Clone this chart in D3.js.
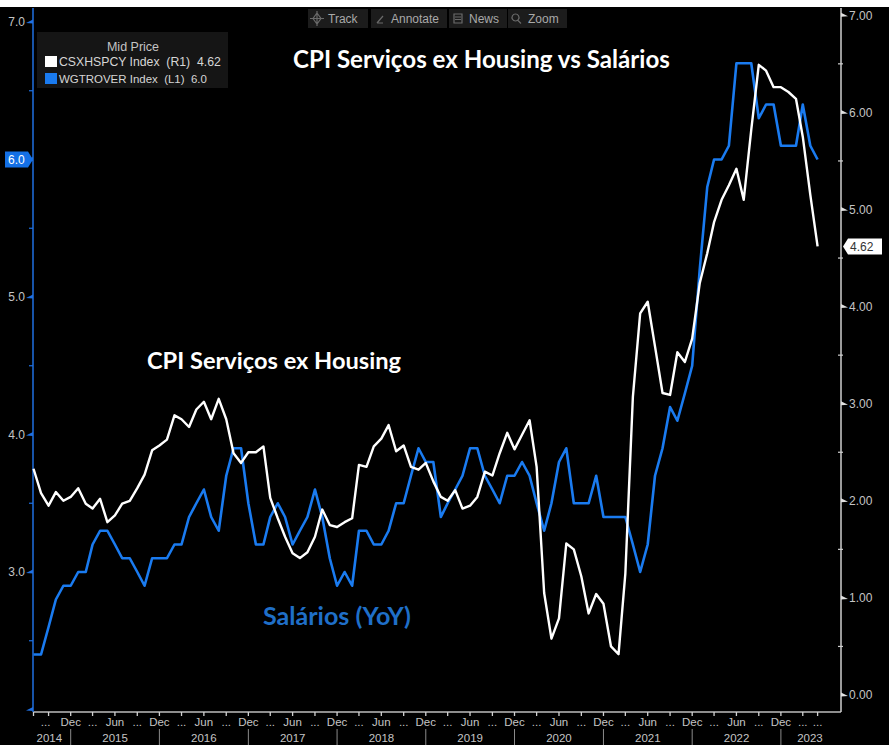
<!DOCTYPE html>
<html><head><meta charset="utf-8">
<script src="https://cdn.jsdelivr.net/npm/d3@7"></script>
<style>body{margin:0;background:#000}svg{display:block}</style>
</head><body><svg id="c" width="889" height="745"></svg>
<script>
// ---------------- DATA ----------------
const firstMonth = "2014-07";   // monthly series, Jul 2014 .. May 2023
const wageValues = [ // WGTROVER Index (L1)
  2.4,2.4,2.6,2.8,2.9,2.9,3.0,3.0,3.2,3.3,3.3,3.2,3.1,3.1,3.0,2.9,3.1,3.1,3.1,3.2,
  3.2,3.4,3.5,3.6,3.4,3.3,3.7,3.9,3.9,3.5,3.2,3.2,3.4,3.5,3.4,3.2,3.3,3.4,3.6,3.4,
  3.1,2.9,3.0,2.9,3.3,3.3,3.2,3.2,3.3,3.5,3.5,3.7,3.9,3.8,3.8,3.4,3.5,3.6,3.7,3.9,
  3.9,3.7,3.6,3.5,3.7,3.7,3.8,3.7,3.5,3.3,3.5,3.8,3.9,3.5,3.5,3.5,3.7,3.4,3.4,3.4,
  3.4,3.2,3.0,3.2,3.7,3.9,4.2,4.1,4.3,4.5,5.2,5.8,6.0,6.0,6.1,6.7,6.7,6.7,6.3,6.4,
  6.4,6.1,6.1,6.1,6.4,6.1,6.0];
const cpiValues = [ // CSXHSPCY Index (R1)
  2.33,2.08,1.95,2.09,2.00,2.04,2.13,1.97,1.92,2.02,1.78,1.85,1.97,2.00,2.13,2.27,2.52,2.57,2.63,2.88,
  2.84,2.76,2.94,3.02,2.84,3.05,2.84,2.49,2.39,2.50,2.50,2.56,2.03,1.82,1.63,1.46,1.41,1.47,1.63,1.91,
  1.75,1.73,1.78,1.82,2.37,2.35,2.56,2.64,2.78,2.51,2.57,2.35,2.32,2.39,2.20,2.04,2.00,2.11,1.92,1.95,
  2.04,2.30,2.26,2.49,2.70,2.53,2.68,2.83,2.35,1.05,0.58,0.79,1.56,1.50,1.22,0.84,1.04,0.94,0.50,0.42,
  1.25,3.07,3.93,4.05,3.59,3.11,3.09,3.53,3.43,3.67,4.24,4.55,4.87,5.10,5.25,5.42,5.10,5.82,6.49,6.43,
  6.26,6.26,6.21,6.14,5.75,5.15,4.62];
const leftMajorTicks = [2,3,4,5,6,7];
const leftLabels = ["3.0","4.0","5.0","6.0","7.0"];
const rightMajorTicks = [0,1,2,3,4,5,6,7];
const monthNames = {2:"...",5:"Jun",8:"...",11:"Dec"};
const years = [2014,2015,2016,2017,2018,2019,2020,2021,2022,2023];
const legendItems = [
  {name:"CSXHSPCY Index", side:"(R1)", last:"4.62", color:"#ffffff"},
  {name:"WGTROVER Index", side:"(L1)", last:"6.0", color:"#1a7bf0"}];
const toolButtons = ["Track","Annotate","News","Zoom"];

// ---------------- SETUP ----------------
const svg = d3.select("#c");
const W = 889, H = 745;
const plot = {l:33, r:841, t:8, b:712};
const parse = d3.utcParse("%Y-%m");
const d0 = parse(firstMonth);
const dates = wageValues.map((_, i) => d3.utcMonth.offset(d0, i));
const lastDate = dates[dates.length-1];

const x = d3.scaleUtc().domain([d0, d3.utcMonth.offset(d0, 101)]).range([33.5, 780.9]);
const yL = d3.scaleLinear().domain([2, 7]).range([709.5, 22]);
const yR = d3.scaleLinear().domain([0, 7]).range([695, 15.3]);

svg.append("rect").attr("width", W).attr("height", H).attr("fill", "#000");
svg.append("rect").attr("width", W).attr("height", 7).attr("fill", "#fff");

const AX = "Liberation Sans, Arial, sans-serif";
const gray = "#c4c4c4";

function fitText(sel, target) {
  const len = sel.node().getComputedTextLength();
  const fs = parseFloat(sel.attr("font-size"));
  sel.attr("font-size", fs * target / len);
}

// ---------------- AXES ----------------
svg.append("line").attr("x1", plot.l).attr("x2", plot.r).attr("y1", plot.b).attr("y2", plot.b)
  .attr("stroke", "#bdbdbd").attr("stroke-width", 1.5);
const qTicks = d3.utcMonths(d0, d3.utcMonth.offset(lastDate, 1)).filter(d => d.getUTCMonth() % 3 === 2);
const tickG = svg.append("g");
tickG.selectAll("line.t").data([d0, ...qTicks, lastDate]).join("line")
  .attr("x1", d => x(d)).attr("x2", d => x(d)).attr("y1", plot.b).attr("y2", plot.b + 4)
  .attr("stroke", "#d0d0d0").attr("stroke-width", 1.3);
tickG.selectAll("text.m").data([...qTicks, lastDate]).join("text")
  .attr("x", (d, i) => i === 0 ? x(d) - 3 : x(d)).attr("y", 726)
  .attr("text-anchor", "middle").attr("fill", gray).attr("font-family", AX).attr("font-size", 11.5)
  .text(d => d === lastDate ? "..." : monthNames[d.getUTCMonth()]);
const seps = years.slice(0, -1).map(yv => Date.UTC(yv, 11, 1));
tickG.selectAll("line.s").data(seps).join("line")
  .attr("x1", d => x(d)).attr("x2", d => x(d)).attr("y1", 729).attr("y2", 745)
  .attr("stroke", "#8a8a8a").attr("stroke-width", 1);
const bounds = [plot.l + 3, ...seps.map(d => x(d)), plot.r - 2];
tickG.selectAll("text.y").data(years).join("text")
  .attr("x", (d, i) => (bounds[i] + bounds[i+1]) / 2 - (i === 0 ? 4 : 0)).attr("y", 742)
  .attr("text-anchor", "middle").attr("fill", gray).attr("font-family", AX).attr("font-size", 11.5)
  .text(d => d);

// left axis (blue)
const blueAx = "#1f6fe0";
svg.append("line").attr("x1", plot.l).attr("x2", plot.l).attr("y1", plot.t).attr("y2", plot.b)
  .attr("stroke", blueAx).attr("stroke-width", 1.5);
const lMinor = d3.range(2.5, 7, 1);
svg.selectAll("line.lm").data(lMinor).join("line")
  .attr("x1", plot.l - 4).attr("x2", plot.l).attr("y1", d => yL(d)).attr("y2", d => yL(d))
  .attr("stroke", blueAx).attr("stroke-width", 1.2);
svg.selectAll("path.lM").data(leftMajorTicks).join("path")
  .attr("d", d => `M${plot.l},${yL(d)-2.5} L${plot.l-7},${yL(d)+1} L${plot.l},${yL(d)+1.5} Z`)
  .attr("fill", blueAx);
svg.selectAll("text.ll").data(leftLabels).join("text")
  .attr("x", 25).attr("y", d => yL(+d)).attr("dy", "0.35em").attr("text-anchor", "end")
  .attr("fill", gray).attr("font-family", AX).attr("font-size", 12).text(d => d);

// right axis (gray)
svg.append("line").attr("x1", plot.r).attr("x2", plot.r).attr("y1", plot.t).attr("y2", plot.b)
  .attr("stroke", "#cfcfcf").attr("stroke-width", 1.5);
const rMinor = d3.range(0.5, 7, 1);
svg.selectAll("line.rm").data(rMinor).join("line")
  .attr("x1", plot.r - 3).attr("x2", plot.r + 2).attr("y1", d => yR(d)).attr("y2", d => yR(d))
  .attr("stroke", "#cfcfcf").attr("stroke-width", 1.2);
svg.selectAll("path.rM").data(rightMajorTicks).join("path")
  .attr("d", d => `M${plot.r},${yR(d)-2.5} L${plot.r+7},${yR(d)+1} L${plot.r},${yR(d)+1.5} Z`)
  .attr("fill", "#e0e0e0");
svg.selectAll("text.rl").data(rightMajorTicks).join("text")
  .attr("x", 849).attr("y", d => yR(d)).attr("dy", "0.35em")
  .attr("fill", gray).attr("font-family", AX).attr("font-size", 12).text(d => d3.format(".2f")(d));

// ---------------- LINES ----------------
const lineL = d3.line().x((d, i) => x(dates[i])).y(d => yL(d));
const lineR = d3.line().x((d, i) => x(dates[i])).y(d => yR(d));
svg.append("path").attr("d", lineL(wageValues)).attr("fill", "none")
  .attr("stroke", legendItems[1].color).attr("stroke-width", 2.6).attr("stroke-linejoin", "round");
svg.append("path").attr("d", lineR(cpiValues)).attr("fill", "none")
  .attr("stroke", legendItems[0].color).attr("stroke-width", 2.4).attr("stroke-linejoin", "round");

// ---------------- LAST VALUE TAGS ----------------
const yl6 = yL(wageValues[wageValues.length-1]);
svg.append("path").attr("d", `M5,${yl6-8} H28 L33,${yl6} L28,${yl6+8} H5 Z`).attr("fill", "#1470e6");
svg.append("text").attr("x", 8).attr("y", yl6).attr("dy", "0.36em").attr("fill", "#fff")
  .attr("font-family", AX).attr("font-size", 12).text(legendItems[1].last);
const yr4 = yR(cpiValues[cpiValues.length-1]);
svg.append("path").attr("d", `M843,${yr4} L848,${yr4-8} H882 V${yr4+8} H848 Z`).attr("fill", "#fff");
svg.append("text").attr("x", 850).attr("y", yr4).attr("dy", "0.36em").attr("fill", "#333")
  .attr("font-family", AX).attr("font-size", 12).text(legendItems[0].last);

// ---------------- LEGEND ----------------
svg.append("rect").attr("x", 37).attr("y", 32).attr("width", 191).attr("height", 56).attr("fill", "#151515");
svg.append("text").attr("x", 133).attr("y", 51).attr("text-anchor", "middle").attr("fill", gray)
  .attr("font-family", AX).attr("font-size", 12.5).text("Mid Price");
const lg = svg.selectAll("g.lg").data(legendItems).join("g")
  .attr("transform", (d, i) => `translate(45,${56 + i*17})`);
lg.append("rect").attr("width", 12).attr("height", 11).attr("fill", d => d.color);
const lgText = lg.append("text").attr("x", 14).attr("y", 10).attr("fill", "#d6d6d6").attr("font-family", AX)
  .attr("font-size", 12).attr("xml:space", "preserve").style("white-space", "pre")
  .text(d => `${d.name}  ${d.side}  ${d.last}`);
lgText.each(function(d, i) { fitText(d3.select(this), i === 0 ? 162 : 148); });

// ---------------- TOOLBAR ----------------
const btnX = [308, 371, 449, 508], btnW = [60, 76, 58, 59];
const tb = svg.selectAll("g.tb").data(toolButtons).join("g")
  .attr("transform", (d, i) => `translate(${btnX[i]},9)`);
tb.append("rect").attr("width", (d, i) => btnW[i]).attr("height", 19).attr("fill", "#1c1c1c");
tb.append("text").attr("x", 20).attr("y", 14).attr("fill", "#a9a9a9").attr("font-family", AX)
  .attr("font-size", 12).text(d => d);
const ic = "#6a6a6a";
tb.filter((d, i) => i === 0).append("path").attr("d", "M9,4 L13,9.5 L9,15 L5,9.5 Z M9,2 V17 M2,9.5 H16")
  .attr("stroke", ic).attr("fill", "none").attr("stroke-width", 1.2);
tb.filter((d, i) => i === 1).append("path").attr("d", "M6,14 L12,7 M6,14 H12")
  .attr("stroke", ic).attr("fill", "none").attr("stroke-width", 1.2);
tb.filter((d, i) => i === 2).append("path").attr("d", "M5,5 H13 V14 H5 Z M6,8 H12 M6,10.5 H12")
  .attr("stroke", ic).attr("fill", "none").attr("stroke-width", 1.2);
tb.filter((d, i) => i === 3).append("path").attr("d", "M7.5,5 a3.5,3.5 0 1,0 0.01,0 M10,11.5 L13,14.5")
  .attr("stroke", ic).attr("fill", "none").attr("stroke-width", 1.2);

// ---------------- TITLES ----------------
const TF = "Lato, 'Open Sans', sans-serif";
const t1 = svg.append("text").attr("x", 293).attr("y", 68).attr("fill", "#fff").attr("font-family", TF)
  .attr("font-weight", 700).attr("font-size", 20).text("CPI Serviços ex Housing vs Salários");
fitText(t1, 377);
const t2 = svg.append("text").attr("x", 147).attr("y", 369).attr("fill", "#fff").attr("font-family", TF)
  .attr("font-weight", 700).attr("font-size", 20).text("CPI Serviços ex Housing");
fitText(t2, 254);
const t3 = svg.append("text").attr("x", 263).attr("y", 625).attr("fill", "#1f6fc8").attr("font-family", TF)
  .attr("font-weight", 700).attr("font-size", 20).text("Salários (YoY)");
fitText(t3, 148);
</script></body></html>
